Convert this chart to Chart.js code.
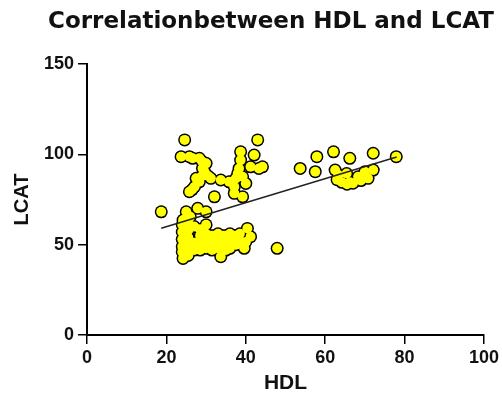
<!DOCTYPE html>
<html>
<head>
<meta charset="utf-8">
<script src="https://cdn.jsdelivr.net/npm/chart.js@4"></script>
<style>
  body { margin: 0; background: #fff; }
  canvas { display: block; }
</style>
</head>
<body>
<canvas id="chart" width="502" height="393"></canvas>
<script>
// HDL (x) vs LCAT (y)
const hdl = [
  24.6, 23.7, 25.8, 26.6, 28.3, 30, 29.1, 29.6, 27.5, 31.2, 33.7, 35.8, 28.3, 27.1, 25.8, 32.1, 29, 30.5, 29, 26.5,
  43, 38.7, 42.1, 38.7, 43.3, 44.2, 41.2, 38.3, 37.5, 39.2, 40, 37.1, 37.1, 39.2, 38, 36.5,
  18.7, 25, 27.9, 30, 24.2, 26, 25.5,
  24, 24, 24, 24, 24, 25.5, 25.5, 25.5, 25.5, 25.5, 27, 27, 27, 28.5, 28.5, 28.5, 28.5, 30, 30, 30, 30, 31.5, 31.5, 31.5,
  24.2, 25.5, 33.7,
  33, 33, 33, 34.5, 34.5, 36, 36, 36, 37.5, 37.5, 38.5, 38.5, 39.6, 40.4, 41.2, 40, 35, 32.5,
  47.9,
  53.7, 57.9, 57.5, 62.1, 66.2, 72.1, 77.9, 72.1, 62.5, 64.2, 66.2, 68.3, 70, 65.4, 63.3, 70.8, 67, 69, 63, 65.5
]
const lcat = [
  108, 98.7, 98.7, 97.8, 97.8, 95, 92.2, 90.4, 86.7, 86.7, 85.8, 84.8, 84.8, 82.1, 79.3, 76.5, 96, 88, 88, 80.5,
  108, 101.4, 99.6, 96.8, 92.2, 93.1, 93.1, 92.2, 86.7, 87.6, 83.9, 82.1, 78.4, 76.5, 89.5, 84.5,
  68.2, 68.2, 70.1, 68.2, 63.6, 65.5, 66,
  61, 57, 53, 49, 46, 62, 58, 54, 50, 46, 60, 51, 47, 58.5, 55, 51, 47, 61, 56, 52, 48, 55, 50, 47,
  42.4, 44, 43.3,
  56, 51, 48, 55, 50, 56, 52, 48, 55, 50, 56, 52, 48, 59, 54.4, 51.5, 47, 53,
  48,
  92.2, 98.7, 90.4, 101.4, 97.8, 100.6, 98.7, 91.3, 91.3, 84.5, 84.5, 87.6, 90.4, 89.4, 88.5, 86.7, 84, 85.5, 86, 83.5
]

// fitted line end points
const lineX = [18.7, 78]
const lineY = [59.1, 98.5]

const xTicks = [0, 20, 40, 60, 80, 100]
const yTicks = [0, 50, 100, 150]

const points = hdl.map((x, i) => ({ x: x, y: lcat[i] }))
const fit = lineX.map((x, i) => ({ x: x, y: lineY[i] }))

const tickFont = { family: `"Liberation Sans", Arial, sans-serif`, size: 18, weight: `bold` }

// main title drawn by hand so it can sit off-centre like the original
const titlePlugin = {
  id: `mainTitle`,
  afterDraw(chart) {
    const ctx = chart.ctx
    ctx.save()
    ctx.font = `bold 23px "DejaVu Sans", sans-serif`
    ctx.fillStyle = `#111`
    ctx.textAlign = `center`
    ctx.textBaseline = `middle`
    ctx.fillText(`Correlationbetween HDL and LCAT`, 271, 22)
    ctx.restore()
  }
}

new Chart(document.querySelector(`#chart`).getContext(`2d`), {
  type: `scatter`,
  data: {
    datasets: [
      {
        type: `line`,
        data: fit,
        borderColor: `#222`,
        borderWidth: 1.5,
        pointRadius: 0,
        fill: false,
        order: 0
      },
      {
        data: points,
        backgroundColor: `#ffff00`,
        borderWidth: 0,
        pointRadius: 5,
        order: 1
      },
      {
        data: points,
        backgroundColor: `#000`,
        borderWidth: 0,
        pointRadius: 6.5,
        order: 2
      }
    ]
  },
  options: {
    responsive: false,
    animation: false,
    devicePixelRatio: 1,
    layout: { padding: { top: 64, right: 15, bottom: 0, left: 0 } },
    plugins: {
      legend: { display: false },
      tooltip: { enabled: false }
    },
    scales: {
      x: {
        type: `linear`,
        min: 0,
        max: 100,
        afterBuildTicks: s => { s.ticks = xTicks.map(v => ({ value: v })) },
        afterFit: s => { s.height = 58 },
        border: { display: true, color: `#000`, width: 2 },
        grid: { drawOnChartArea: false, drawTicks: true, tickLength: 9, color: `#000`, lineWidth: 1.5 },
        ticks: { color: `#111`, font: tickFont, padding: 3, maxRotation: 0 },
        title: {
          display: true,
          text: `HDL`,
          color: `#111`,
          font: { family: `"Liberation Sans", Arial, sans-serif`, size: 21, weight: `bold`, lineHeight: 0.9 },
          padding: { top: 0, bottom: 0 }
        }
      },
      y: {
        type: `linear`,
        min: 0,
        max: 150,
        afterBuildTicks: s => { s.ticks = yTicks.map(v => ({ value: v })) },
        afterFit: s => { s.width = 87 },
        border: { display: true, color: `#000`, width: 2 },
        grid: { drawOnChartArea: false, drawTicks: true, tickLength: 9, color: `#000`, lineWidth: 1.5 },
        ticks: { color: `#111`, font: tickFont, padding: 4 },
        title: {
          display: true,
          text: `LCAT`,
          color: `#111`,
          font: { family: `"Liberation Sans", Arial, sans-serif`, size: 20, weight: `bold` },
          padding: { top: 10.5, bottom: 0 }
        }
      }
    }
  },
  plugins: [titlePlugin]
})
</script>
</body>
</html>
